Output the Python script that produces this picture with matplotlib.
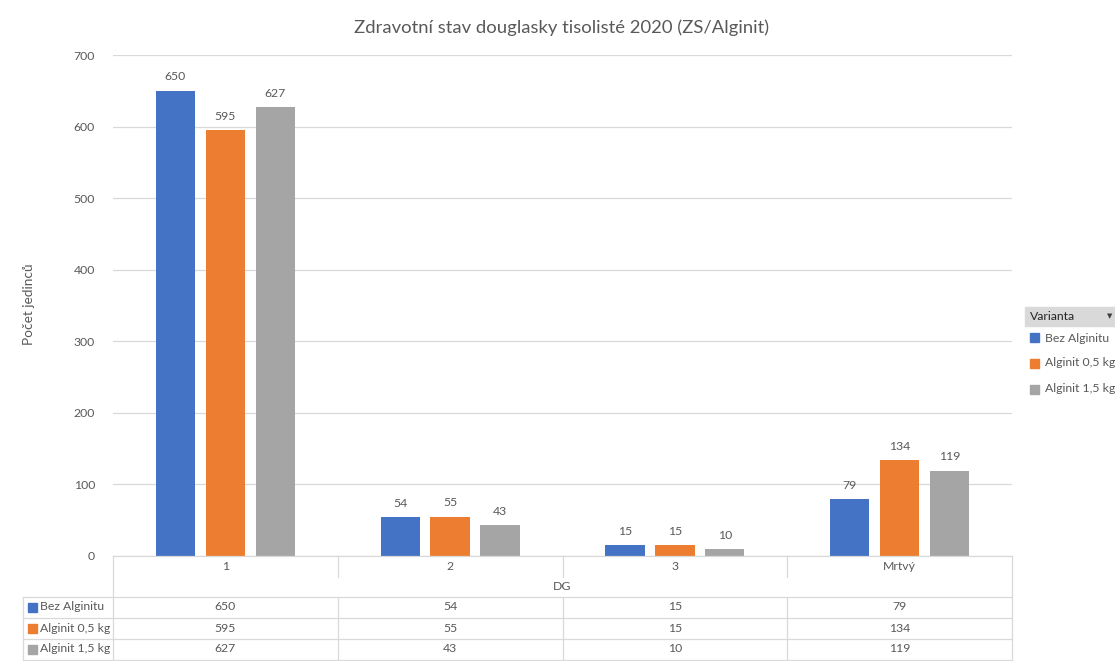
import numpy as np
import matplotlib
matplotlib.use("Agg")
import matplotlib.pyplot as plt
from matplotlib.transforms import blended_transform_factory
from matplotlib.patches import Rectangle
from matplotlib.lines import Line2D

categories = ["1", "2", "3", "Mrtvý"]
series_names = ["Bez Alginitu", "Alginit 0,5 kg", "Alginit 1,5 kg"]
bez_alginitu = [650, 54, 15, 79]
alginit_05 = [595, 55, 15, 134]
alginit_15 = [627, 43, 10, 119]
series_values = [bez_alginitu, alginit_05, alginit_15]
colors = ["#4472C4", "#ED7D31", "#A5A5A5"]
y_ticks = [0, 100, 200, 300, 400, 500, 600, 700]

W, H = 1115, 661
TXT = "#595959"
GRID = "#D9D9D9"
FS = 8.8


def fy(py):
    # pixel row -> figure fraction
    return 1 - py / H


def fx(px):
    return px / W


def main():
    plt.rcParams["font.family"] = ["Lato", "DejaVu Sans"]
    fig = plt.figure(figsize=(W / 100, H / 100), dpi=100)
    ax = fig.add_axes([fx(113), fy(556), fx(1012) - fx(113), fy(55) - fy(556)])

    x = np.arange(len(categories))
    width = 0.175
    for i, (name, vals) in enumerate(zip(series_names, series_values)):
        pos = x + (i - 1) * 0.222
        ax.bar(pos, vals, width, color=colors[i], zorder=3)
        for px_, v in zip(pos, vals):
            ax.annotate(str(v), (px_, v), xytext=(0, 6), textcoords="offset points",
                        ha="center", va="bottom", fontsize=FS, color=TXT)

    ax.set_xlim(-0.5, len(categories) - 0.5)
    ax.set_ylim(0, 700)
    ax.set_yticks(y_ticks)
    ax.set_yticklabels([str(t) for t in y_ticks], fontsize=FS, color=TXT)
    ax.set_xticks([])
    ax.tick_params(axis="y", length=0, pad=13)
    ax.grid(axis="y", color=GRID, linewidth=0.9, zorder=0)
    for s in ax.spines.values():
        s.set_visible(False)

    fig.text(fx(562), fy(28), "Zdravotní stav douglasky tisolisté 2020 (ZS/Alginit)",
             ha="center", va="center", fontsize=13.3, color=TXT)
    fig.text(fx(29), fy(304), "Počet jedinců", rotation=90, ha="center", va="center",
             fontsize=9.8, color=TXT)

    # data table below the axis
    tr = blended_transform_factory(ax.transData, fig.transFigure)
    trf = fig.transFigure
    edge = len(categories) - 0.5

    def hline(py, x0=fx(23)):
        fig.add_artist(Line2D([x0, fx(1012)], [fy(py), fy(py)], color=GRID,
                              linewidth=0.9, transform=trf))

    def vline(xd, y0, y1):
        fig.add_artist(Line2D([xd, xd], [fy(y0), fy(y1)], color=GRID,
                              linewidth=0.9, transform=tr))

    hline(556, fx(113))
    for py in [597, 618, 639, 660]:
        hline(py)
    vline(-0.5, 556, 660)
    vline(edge, 556, 660)
    for b in x[:-1] + 0.5:
        vline(b, 556, 577)
        vline(b, 597, 660)
    fig.add_artist(Line2D([fx(23), fx(23)], [fy(597), fy(660)], color=GRID,
                          linewidth=0.9, transform=trf))

    for xi, c in zip(x, categories):
        fig.text(xi, fy(566), c, transform=tr, ha="center", va="center",
                 fontsize=FS, color=TXT)
    fig.text(np.mean(x), fy(587), "DG", transform=tr, ha="center", va="center",
             fontsize=FS, color=TXT)

    row_y = [607, 628, 649]
    for ry, name, vals, col in zip(row_y, series_names, series_values, colors):
        fig.add_artist(Rectangle((fx(28), fy(ry + 4.5)), fx(9), fy(0) - fy(9),
                                 color=col, transform=trf))
        fig.text(fx(40), fy(ry), name, ha="left", va="center", fontsize=FS, color=TXT)
        for xi, v in zip(x, vals):
            fig.text(xi, fy(ry), str(v), transform=tr, ha="center", va="center",
                     fontsize=FS, color=TXT)

    # pivot legend
    fig.add_artist(Rectangle((fx(1025), fy(326)), fx(1115) - fx(1025), fy(307) - fy(326),
                             color="#D9D9D9", transform=trf))
    fig.text(fx(1030), fy(316.5), "Varianta", ha="left", va="center", fontsize=FS,
             color="#262626")
    fig.text(fx(1110), fy(315.5), "▼", ha="center", va="center", fontsize=5,
             color="#404040")
    for ly, name, col in zip([338, 363, 389], series_names, colors):
        fig.add_artist(Rectangle((fx(1030), fy(ly + 4.5)), fx(9), fy(0) - fy(9),
                                 color=col, transform=trf))
        fig.text(fx(1045), fy(ly), name, ha="left", va="center", fontsize=FS, color=TXT)

    fig.savefig("out.png", dpi=100)


if __name__ == "__main__":
    main()
